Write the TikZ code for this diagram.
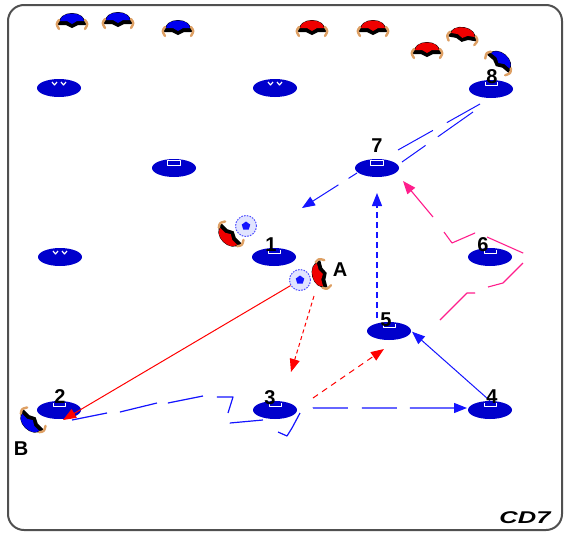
\documentclass[tikz,border=0pt]{standalone}
\usepackage{fontspec}
\setmainfont{Liberation Sans}
\usetikzlibrary{shapes.geometric,arrows.meta}

\definecolor{conecol}{RGB}{0,0,204}
\definecolor{runblue}{RGB}{20,20,255}
\definecolor{passred}{RGB}{255,0,0}
\definecolor{dribpink}{RGB}{255,30,140}
\definecolor{skin}{RGB}{222,160,100}
\definecolor{framegray}{RGB}{80,80,80}
\definecolor{ballring}{RGB}{225,228,255}
\definecolor{teamblue}{RGB}{0,0,240}
\definecolor{teamred}{RGB}{240,0,0}

\tikzset{
  cone/.style={ellipse, fill=conecol, minimum width=44pt, minimum height=18pt, inner sep=0pt},
  num/.style={font=\fontsize{20}{20}\selectfont\bfseries, inner sep=0pt},
  ball/.style={circle, minimum size=21pt, inner sep=0pt, fill=ballring,
               draw=runblue!75, dash pattern=on 1.6pt off 1.2pt, line width=1pt},
  pass/.style={passred, line width=1pt},
  run/.style={runblue, line width=1.2pt},
  withhead/.style={-{Triangle[length=13pt,width=10pt]}},
  pics/player/.style={code={
    \fill[black] (-14,5) .. controls (-14,-11) and (14,-11) .. (14,5) -- (6,5) -- (0,8) -- (-6,5) -- cycle;
    \fill[#1] (-12,1) .. controls (-11,-9) and (11,-9) .. (12,1) -- (5,1) -- (0,4) -- (-5,1) -- cycle;
    \draw[skin, line width=2.4pt, line cap=round] (-13,0) .. controls (-16,4) .. (-13,9);
    \draw[skin, line width=2.4pt, line cap=round] (13,0) .. controls (16,4) .. (13,9);
  }}
}

\begin{document}
\begin{tikzpicture}[x=1pt,y=-1pt,line join=round]
\useasboundingbox (0,0) rectangle (565,536);

% field frame
\draw[framegray, line width=2pt, rounded corners=16pt] (8,5) rectangle (562,530);

% spare cones
\node[cone] (w1) at (59,88) {};
\node[cone] (w2) at (275,88) {};
\node[cone] (w3) at (60,257) {};
\node[cone] (w4) at (174,168) {};
% numbered cones
\node[cone] (c1) at (274,257) {};
\node[cone] (c2) at (59,410) {};
\node[cone] (c3) at (275,410) {};
\node[cone] (c4) at (490,410) {};
\node[cone] (c5) at (389,331) {};
\node[cone] (c6) at (490,257) {};
\node[cone] (c7) at (377,168) {};
\node[cone] (c8) at (491,89) {};

% cone markings
\foreach \c in {w1,w2,w3}{
  \draw[white, line width=1.2pt] ([shift={(-7,-6)}]\c.center) -- ++(2.5,3) -- ++(2.5,-3);
  \draw[white, line width=1.2pt] ([shift={(2,-6)}]\c.center) -- ++(2.5,3) -- ++(2.5,-3);
}
\foreach \c in {w4,c7}{
  \draw[white, line width=1pt] ([shift={(-7,-8)}]\c.center) rectangle ([shift={(6,-3)}]\c.center);
}
\foreach \c in {c1,c2,c3,c4,c5,c6,c8}{
  \draw[white, line width=1pt] ([shift={(-6,-7)}]\c.center) -- ++(0,3) -- ++(12,0) -- ++(0,-3);
}

% balls
\node[ball] (b1) at (246,226) {};
\node[ball] (b2) at (300,280) {};
\foreach \b in {b1,b2}{
  \node[regular polygon, regular polygon sides=5, fill=runblue, minimum size=9pt, inner sep=0pt] at (\b) {};
}

% free ends of the runs and passes
\coordinate (a0) at (314,296);
\coordinate (t2) at (63,420);
\coordinate (t3) at (291,372);
\coordinate (r3) at (313,398);
\coordinate (t5) at (384,349);
\coordinate (u5) at (377,318);
\coordinate (u7) at (377,193);
\coordinate (k0) at (440,320);
\coordinate (k7) at (403,181);
\coordinate (q0) at (72,420);
\coordinate (t4) at (467,408);
\coordinate (e1) at (480,104);
\coordinate (e2) at (398,150);
\coordinate (f1) at (473,112);
\coordinate (f2) at (402,162);
\coordinate (g1) at (357,173);
\coordinate (g2) at (302,208);

% passes
\draw[pass, withhead] (b2) -- (t2);
\draw[pass, dash pattern=on 4pt off 3pt, withhead] (a0) -- (t3);
\draw[pass, dash pattern=on 6pt off 5pt, withhead] (r3) -- (t5);

% runs
\draw[run, line width=1pt, withhead, shorten >=1pt] (c4.north) -- (c5.east);
\draw[run, dash pattern=on 6pt off 4pt, withhead] (u5) -- (u7);
\draw[run, dash pattern=on 35.7pt off 13pt on 38.1pt off 11pt on 35.7pt off 14pt on 32.8pt off 10.2pt on 33.1pt off 37.7pt on 36.2pt off 42.4pt on 35pt off 14pt on 35pt off 13pt on 80pt, withhead]
  (q0) -- (107,413) -- (120,412) -- (157,403) -- (168,403) -- (203,396) -- (217,397) -- (233,397)
  -- (228,413) -- (230,423) -- (263,420) -- (300,413) -- (292,428) -- (287,436) -- (278,432)
  -- (313,408) -- (t4);
\draw[run, line width=1pt, dash pattern=on 38pt off 16pt on 40pt] (e1) -- (e2);
\draw[run, line width=1pt, dash pattern=on 43pt off 15pt on 40pt] (f1) -- (f2);
\draw[run, line width=1pt, dash pattern=on 10pt off 12pt on 60pt, withhead] (g1) -- (g2);

% dribble around cone 6
\draw[dribpink, line width=1.1pt, dash pattern=on 46.2pt off 14.3pt on 43.8pt off 10pt on 39.4pt off 12.6pt on 38.7pt off 18.6pt on 80pt, withhead]
  (k0) -- (467,293) -- (475,293) -- (488,287) -- (503,283) -- (523,263) -- (523,253)
  -- (487,237) -- (475,233) -- (452,243) -- (444,232) -- (433,217) -- (k7);

% players waiting
\pic at (72,20) {player=teamblue};
\pic at (118,19) {player=teamblue};
\pic at (178,27) {player=teamblue};
\pic at (312,27) {player=teamred};
\pic at (373,27) {player=teamred};
\pic at (427,49) {player=teamred};
\pic[rotate=-10] at (463,34) {player=teamred};
\pic[rotate=-40] at (501,60) {player=teamblue};
% players on the field
\pic[rotate=135] at (228,237) {player=teamred};
\pic[rotate=105] at (319,275) {player=teamred};
\pic[rotate=135] at (30,423) {player=teamblue};

% cone numbers
\node[num] (n1) at (271,245) {1};
\node[num] (n2) at (60,397) {2};
\node[num] (n3) at (270,398) {3};
\node[num] (n4) at (492,397) {4};
\node[num] (n5) at (386,320) {5};
\node[num] (n6) at (483,245) {6};
\node[num] (n7) at (377,146) {7};
\node[num] (n8) at (492,77) {8};

% player letters
\node[num] (la) at (340,270) {A};
\node[num] (lb) at (21,449) {B};

% signature
\node[font=\fontsize{17}{17}\selectfont\bfseries\itshape, inner sep=0pt] (sig) at (525,518) {\scalebox{1.5}[1]{CD7}};
\end{tikzpicture}
\end{document}
